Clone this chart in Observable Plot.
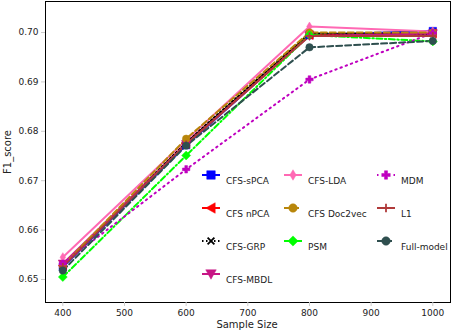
<!DOCTYPE html>
<html><head><meta charset="utf-8">
<script src="https://cdn.jsdelivr.net/npm/d3@7"></script>
<script src="https://cdn.jsdelivr.net/npm/@observablehq/plot@0.6"></script>
<style>
body{margin:0;background:#fff;}
#wrap{position:relative;width:452px;height:334px;font-family:"DejaVu Sans",sans-serif;}
</style></head><body><div id="wrap"></div>
<script>
const sampleSizes = [400, 600, 800, 1000];
const seriesNames = ["CFS-sPCA","CFS nPCA","CFS-GRP","CFS-MBDL","CFS-LDA","CFS Doc2vec","PSM","MDM","L1","Full-model"];
const sPCA   = [0.6525, 0.6772, 0.6995, 0.7003];
const nPCA   = [0.6528, 0.6775, 0.6995, 0.6998];
const GRP    = [0.6527, 0.6778, 0.6998, 0.6997];
const MBDL   = [0.6532, 0.6774, 0.6993, 0.6998];
const LDA    = [0.6545, 0.6782, 0.7012, 0.7002];
const Doc2vec= [0.6528, 0.6785, 0.7000, 0.7000];
const PSM    = [0.6505, 0.6751, 0.6995, 0.6982];
const MDM    = [0.6532, 0.6723, 0.6905, 0.6999];
const L1     = [0.6526, 0.6774, 0.6993, 0.6993];
const Full   = [0.6518, 0.6771, 0.6970, 0.6983];
const xTicks = [400,500,600,700,800,900,1000];
const yTicks = [0.65,0.66,0.67,0.68,0.69,0.70];

// custom symbols
const sq = {draw(c,s){const r=Math.sqrt(s)/2;c.rect(-r,-r,2*r,2*r);}};
const triLeft = {draw(c,s){const r=Math.sqrt(s)*0.62;c.moveTo(-r,0);c.lineTo(r*0.8,-r);c.lineTo(r*0.8,r);c.closePath();}};
const triDown = {draw(c,s){const r=Math.sqrt(s)*0.62;c.moveTo(0,r);c.lineTo(-r,-r*0.8);c.lineTo(r,-r*0.8);c.closePath();}};
const thinDiamond = {draw(c,s){const r=Math.sqrt(s)*0.62;c.moveTo(0,-r);c.lineTo(r*0.6,0);c.lineTo(0,r);c.lineTo(-r*0.6,0);c.closePath();}};
const diamond = {draw(c,s){const r=Math.sqrt(s)*0.6;c.moveTo(0,-r);c.lineTo(r,0);c.lineTo(0,r);c.lineTo(-r,0);c.closePath();}};
const circ = {draw(c,s){const r=Math.sqrt(s)/2;c.moveTo(r,0);c.arc(0,0,r,0,2*Math.PI);}};
const plusFilled = {draw(c,s){const r=Math.sqrt(s)/2,w=r*0.36;c.moveTo(-w,-r);c.lineTo(w,-r);c.lineTo(w,-w);c.lineTo(r,-w);c.lineTo(r,w);c.lineTo(w,w);c.lineTo(w,r);c.lineTo(-w,r);c.lineTo(-w,w);c.lineTo(-r,w);c.lineTo(-r,-w);c.lineTo(-w,-w);c.closePath();}};
const plusLine = {draw(c,s){const r=Math.sqrt(s)/2;c.moveTo(-r,0);c.lineTo(r,0);c.moveTo(0,-r);c.lineTo(0,r);}};
const xLine = {draw(c,s){const r=Math.sqrt(s)*0.4;c.moveTo(-r,-r);c.lineTo(r,r);c.moveTo(-r,r);c.lineTo(r,-r);}};

const styles = [
 {vals:sPCA, color:"#0000ff", dash:null, sym:sq, fill:true, lw:2},
 {vals:nPCA, color:"#ff0000", dash:null, sym:triLeft, fill:true, lw:2},
 {vals:GRP, color:"#000000", dash:"1.5,2.5", sym:xLine, fill:false, lw:2},
 {vals:MBDL, color:"#c71585", dash:null, sym:triDown, fill:true, lw:2},
 {vals:LDA, color:"#ff69b4", dash:null, sym:thinDiamond, fill:true, lw:2},
 {vals:Doc2vec, color:"#b8860b", dash:"6,3", sym:circ, fill:true, lw:2},
 {vals:PSM, color:"#00ff00", dash:"6,2.5,1.5,2.5", sym:diamond, fill:true, lw:2},
 {vals:MDM, color:"#bf00bf", dash:"1.5,4", sym:plusFilled, fill:true, lw:2},
 {vals:L1, color:"#b03a3a", dash:null, sym:plusLine, fill:false, lw:2},
 {vals:Full, color:"#2f4f4f", dash:"6,3", sym:circ, fill:true, lw:2}
];

const marks = [];
const mkData = (st,i)=> sampleSizes.map((x,j)=>({x, y:st.vals[j], s:seriesNames[i]}));
styles.forEach((st,i)=>{
  marks.push(Plot.line(mkData(st,i),{x:"x",y:"y",stroke:st.color,strokeWidth:st.lw,strokeDasharray:st.dash}));
});
styles.forEach((st,i)=>{
  marks.push(Plot.dot(mkData(st,i),{x:"x",y:"y",symbol:st.sym,r:4.2,
    fill: st.fill?st.color:"none", stroke:st.color, strokeWidth: st.fill?0.5:1.8}));
});

marks.push(Plot.frame({stroke:"#000",strokeWidth:1}));
marks.push(Plot.axisX(xTicks,{tickSize:4,tickPadding:3,fontSize:9,stroke:"#ccc",fill:"#222",label:null,tickFormat:d=>String(d)}));
marks.push(Plot.axisY(yTicks,{tickSize:4,tickPadding:3,fontSize:9,stroke:"#ccc",fill:"#222",label:null,tickFormat:d=>d.toFixed(2)}));

const chart = Plot.plot({
  width:452, height:334,
  marginLeft:45, marginRight:2, marginTop:1, marginBottom:32,
  x:{domain:[371.9,1028.7]},
  y:{domain:[0.64534,0.70628]},
  style:{fontFamily:"DejaVu Sans, sans-serif",background:"white",color:"#222"},
  marks
});
document.getElementById("wrap").appendChild(chart);

// axis titles
const svg = d3.select(chart);
svg.append("text").attr("x",247).attr("y",328).attr("text-anchor","middle")
  .attr("font-size",10).attr("fill","#222").text("Sample Size");
svg.append("text").attr("transform","translate(11,152) rotate(-90)").attr("text-anchor","middle")
  .attr("font-size",10).attr("fill","#222").text("F1_score");

// legend (3 columns, column-major)
const colX = [211, 293, 386];
const rowY = [175, 208, 241, 274];
const colRows = [4,3,3];
let k = 0;
const leg = svg.append("g");
colRows.forEach((n,c)=>{
  for(let r=0;r<n;r++,k++){
    const st = styles[k];
    const g = leg.append("g").attr("transform",`translate(${colX[c]},${rowY[r]})`);
    g.append("line").attr("x1",-9).attr("x2",9).attr("y1",0).attr("y2",0)
      .attr("stroke",st.color).attr("stroke-width",2).attr("stroke-dasharray",st.dash);
    const p = d3.path(); st.sym.draw(p, 72);
    g.append("path").attr("d",p.toString()).attr("fill",st.fill?st.color:"none")
      .attr("stroke",st.color).attr("stroke-width",st.fill?0.5:1.8);
    leg.append("text").attr("x",colX[c]+15).attr("y",rowY[r]+6).attr("dy","0.35em")
      .attr("text-anchor","start").attr("font-size",9).attr("fill","#222").text(seriesNames[k]);
  }
});
</script></body></html>
